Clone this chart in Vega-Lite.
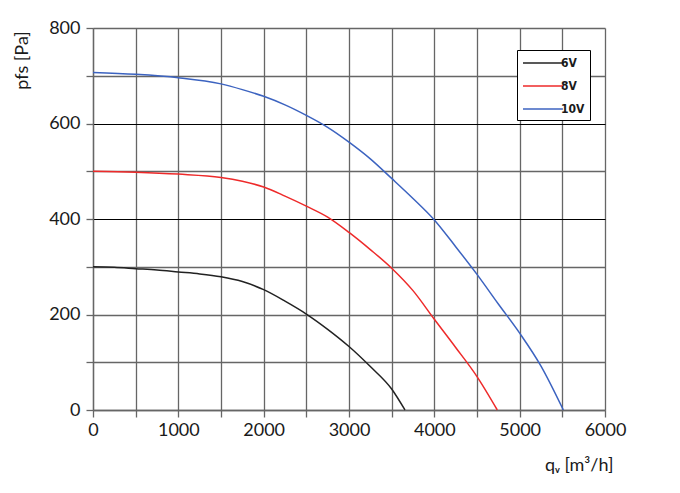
{
  "$schema": "https://vega.github.io/schema/vega-lite/v6.json",
  "width": 512,
  "height": 382,
  "autosize": {"type": "none"},
  "padding": {"left": 93, "top": 28, "right": 75, "bottom": 83},
  "background": "white",
  "config": {"view": {"stroke": null}},
  "data": {
    "values": [
      {"series": "6V", "q": 0, "p": 300},
      {"series": "6V", "q": 250, "p": 299},
      {"series": "6V", "q": 500, "p": 296},
      {"series": "6V", "q": 750, "p": 293},
      {"series": "6V", "q": 1000, "p": 289},
      {"series": "6V", "q": 1250, "p": 285},
      {"series": "6V", "q": 1500, "p": 279},
      {"series": "6V", "q": 1750, "p": 269},
      {"series": "6V", "q": 2000, "p": 252},
      {"series": "6V", "q": 2250, "p": 228},
      {"series": "6V", "q": 2500, "p": 201},
      {"series": "6V", "q": 2750, "p": 169},
      {"series": "6V", "q": 3000, "p": 133},
      {"series": "6V", "q": 3250, "p": 91},
      {"series": "6V", "q": 3500, "p": 44},
      {"series": "6V", "q": 3656, "p": 0},
      {"series": "8V", "q": 0, "p": 500},
      {"series": "8V", "q": 500, "p": 498},
      {"series": "8V", "q": 1000, "p": 494},
      {"series": "8V", "q": 1500, "p": 487},
      {"series": "8V", "q": 1750, "p": 479},
      {"series": "8V", "q": 2000, "p": 467},
      {"series": "8V", "q": 2250, "p": 448},
      {"series": "8V", "q": 2500, "p": 427},
      {"series": "8V", "q": 2750, "p": 404},
      {"series": "8V", "q": 3000, "p": 372},
      {"series": "8V", "q": 3250, "p": 336},
      {"series": "8V", "q": 3500, "p": 297},
      {"series": "8V", "q": 3750, "p": 250},
      {"series": "8V", "q": 4000, "p": 190},
      {"series": "8V", "q": 4250, "p": 131},
      {"series": "8V", "q": 4500, "p": 70},
      {"series": "8V", "q": 4738, "p": 0},
      {"series": "10V", "q": 0, "p": 707},
      {"series": "10V", "q": 500, "p": 703},
      {"series": "10V", "q": 1000, "p": 696},
      {"series": "10V", "q": 1500, "p": 683},
      {"series": "10V", "q": 1750, "p": 671},
      {"series": "10V", "q": 2000, "p": 657},
      {"series": "10V", "q": 2250, "p": 639},
      {"series": "10V", "q": 2500, "p": 617},
      {"series": "10V", "q": 2750, "p": 592},
      {"series": "10V", "q": 3000, "p": 561},
      {"series": "10V", "q": 3250, "p": 526},
      {"series": "10V", "q": 3500, "p": 485},
      {"series": "10V", "q": 3750, "p": 443},
      {"series": "10V", "q": 4000, "p": 398},
      {"series": "10V", "q": 4250, "p": 342},
      {"series": "10V", "q": 4500, "p": 284},
      {"series": "10V", "q": 4750, "p": 222},
      {"series": "10V", "q": 5000, "p": 161},
      {"series": "10V", "q": 5250, "p": 92},
      {"series": "10V", "q": 5512, "p": 0}
    ]
  },
  "mark": {"type": "line", "interpolate": "monotone", "strokeWidth": 1.5},
  "encoding": {
    "x": {
      "field": "q",
      "type": "quantitative",
      "scale": {"domain": [0, 6000], "nice": false, "zero": false},
      "axis": {
        "values": [0, 500, 1000, 1500, 2000, 2500, 3000, 3500, 4000, 4500, 5000, 5500, 6000],
        "format": "d",
        "labelExpr": "datum.value % 1000 == 0 ? datum.label : ''",
        "grid": true,
        "gridColor": "#666666",
        "gridWidth": 1.3,
        "domainColor": "#666666",
        "domainWidth": 1.3,
        "tickColor": "#666666",
        "tickWidth": 1.3,
        "tickSize": 7,
        "labelFont": "Lato",
        "labelFontSize": 18,
        "labelColor": "#1a1a1a",
        "labelPadding": 4,
        "labelFlush": false,
        "title": "qᵥ [m³/h]",
        "titleFont": "Lato",
        "titleFontSize": 18,
        "titleFontWeight": "normal",
        "titleColor": "#1a1a1a",
        "titleAnchor": null,
        "titleAlign": "right",
        "titleBaseline": "middle",
        "titleX": 520,
        "titleY": 55
      }
    },
    "y": {
      "field": "p",
      "type": "quantitative",
      "scale": {"domain": [0, 800], "nice": false},
      "axis": {
        "values": [0, 100, 200, 300, 400, 500, 600, 700, 800],
        "format": "d",
        "labelExpr": "datum.value % 200 == 0 ? datum.label : ''",
        "grid": true,
        "gridColor": {"condition": {"test": "datum.value == 400 || datum.value == 600", "value": "#000000"}, "value": "#666666"},
        "gridWidth": {"condition": {"test": "datum.value == 400 || datum.value == 600", "value": 1}, "value": 1.3},
        "domainColor": "#666666",
        "domainWidth": 1.3,
        "tickColor": "#666666",
        "tickWidth": 1.3,
        "tickSize": 7,
        "labelFont": "Lato",
        "labelFontSize": 18,
        "labelColor": "#1a1a1a",
        "labelPadding": 6,
        "labelFlush": false,
        "title": "pfs [Pa]",
        "titleFont": "Lato",
        "titleFontSize": 18,
        "titleFontWeight": "normal",
        "titleColor": "#1a1a1a",
        "titleAngle": -90,
        "titleAlign": "center",
        "titleBaseline": "middle",
        "titleX": -71,
        "titleY": 32
      }
    },
    "color": {
      "field": "series",
      "type": "nominal",
      "scale": {"domain": ["6V", "8V", "10V"], "range": ["#222222", "#ee2a2a", "#3c63c0"]},
      "legend": {
        "orient": "none",
        "legendX": 424,
        "legendY": 22,
        "title": null,
        "symbolType": "M-1,0H4.7",
        "symbolSize": 196,
        "symbolStrokeWidth": 1.5,
        "labelOffset": 23,
        "labelFont": "DejaVu Sans Condensed, Liberation Sans Narrow, sans-serif",
        "labelFontSize": 12,
        "labelFontWeight": "bold",
        "labelColor": "#1a1a1a",
        "rowPadding": 9,
        "padding": 5,
        "strokeColor": "#000000",
        "fillColor": "white"
      }
    }
  }
}
